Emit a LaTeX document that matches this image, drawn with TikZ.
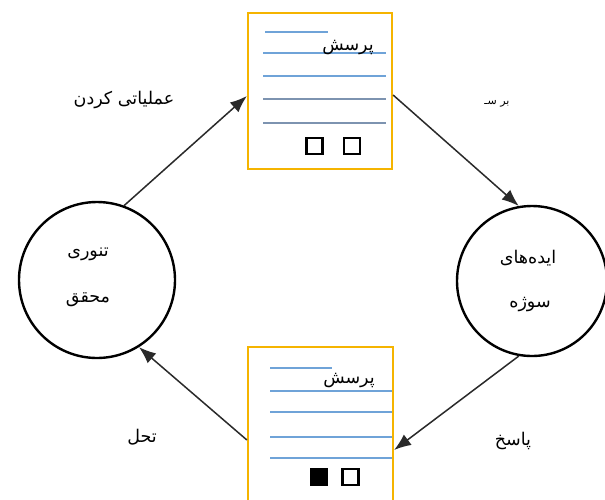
\documentclass[tikz,border=0pt]{standalone}
\usepackage{fontspec}
\TeXXeTstate=1
\newfontfamily\arabicfont[Script=Arabic]{DejaVu Sans}
\usetikzlibrary{arrows.meta}
\definecolor{boxorange}{HTML}{F5B400}
\definecolor{lineblue}{HTML}{6FA3D8}
\definecolor{linegray}{HTML}{7D93B0}
\definecolor{arrowgray}{HTML}{2A2A2A}
\tikzset{
  paper/.style={draw=boxorange, line width=2.2pt, rectangle, fill=white},
  ruled/.style={draw=lineblue, line width=1.4pt},
  ruledgray/.style={draw=linegray, line width=1.4pt},
  circ/.style={draw=black, line width=2.4pt, circle, inner sep=0pt},
  tick/.style={draw=black, line width=2.5pt, rectangle, minimum size=16pt, inner sep=0pt},
  ticked/.style={tick, fill=black},
  lbl/.style={font=\arabicfont\fontsize{17.5}{20}\selectfont, inner sep=1pt},
  arr/.style={draw=arrowgray, line width=1.5pt, -{Latex[length=17pt,width=13pt]}}
}
\begin{document}
\begin{tikzpicture}[x=1pt,y=-1pt]
\useasboundingbox (0,0) rectangle (605,499);
\clip (0,0) rectangle (605,499);
\fill[white] (0,0) rectangle (605,499);

% circles
\node[circ, minimum size=156pt] (theory) at (97,280) {};
\node[circ, minimum size=150pt] (idea) at (532,281) {};
\node[lbl] (theoryA) at (88,254) {\beginR تنوری\endR};
\node[lbl] (theoryB) at (88,300) {\beginR محقق\endR};
\node[lbl] (ideaA) at (528,258) {\beginR ایده‌های\endR};
\node[lbl] (ideaB) at (530,305) {\beginR سوژه\endR};

% top questionnaire
\node[paper, minimum width=144pt, minimum height=156pt] (q1) at (320,91) {};
\draw[ruled] (265,32) -- (328,32);
\draw[ruled] (263,53) -- (386,53);
\draw[ruled] (263,76) -- (386,76);
\draw[ruledgray] (263,99) -- (386,99);
\draw[ruledgray] (263,123) -- (386,123);
\node[lbl] (q1t) at (348,48) {\beginR پرسش\endR};
\node[tick] (q1a) at (314.5,146) {};
\node[tick] (q1b) at (352,146) {};

% bottom questionnaire
\node[paper, minimum width=145pt, minimum height=160pt] (q2) at (320.5,427) {};
\draw[ruled] (270,368) -- (332,368);
\draw[ruled] (270,391) -- (392,391);
\draw[ruled] (270,412) -- (392,412);
\draw[ruled] (270,437) -- (392,437);
\draw[ruled] (270,458) -- (392,458);
\node[lbl] (q2t) at (349,381) {\beginR پرسش\endR};
\node[ticked] (q2a) at (319,477) {};
\node[tick] (q2b) at (350.5,477) {};

% connectors
\draw[arr] (theory.70) -- ([yshift=-5pt]q1.west);
\draw[arr] ([yshift=-4pt]q1.east) -- (idea.100);
\draw[arr] (idea.-100) -- ([yshift=-23pt]q2.east);
\draw[arr] ([yshift=-13pt]q2.west) -- (theory.-58);

% labels
\node[lbl] (l1) at (124,100) {\beginR عملیاتی کردن\endR};
\node[lbl, font=\arabicfont\fontsize{11}{13}\selectfont] (l2) at (497,104) {\beginR بر سـ\endR};
\node[lbl] (l3) at (513,441) {\beginR پاسخ\endR};
\node[lbl] (l4) at (142,437) {\beginR تحل\endR};
\end{tikzpicture}
\end{document}
